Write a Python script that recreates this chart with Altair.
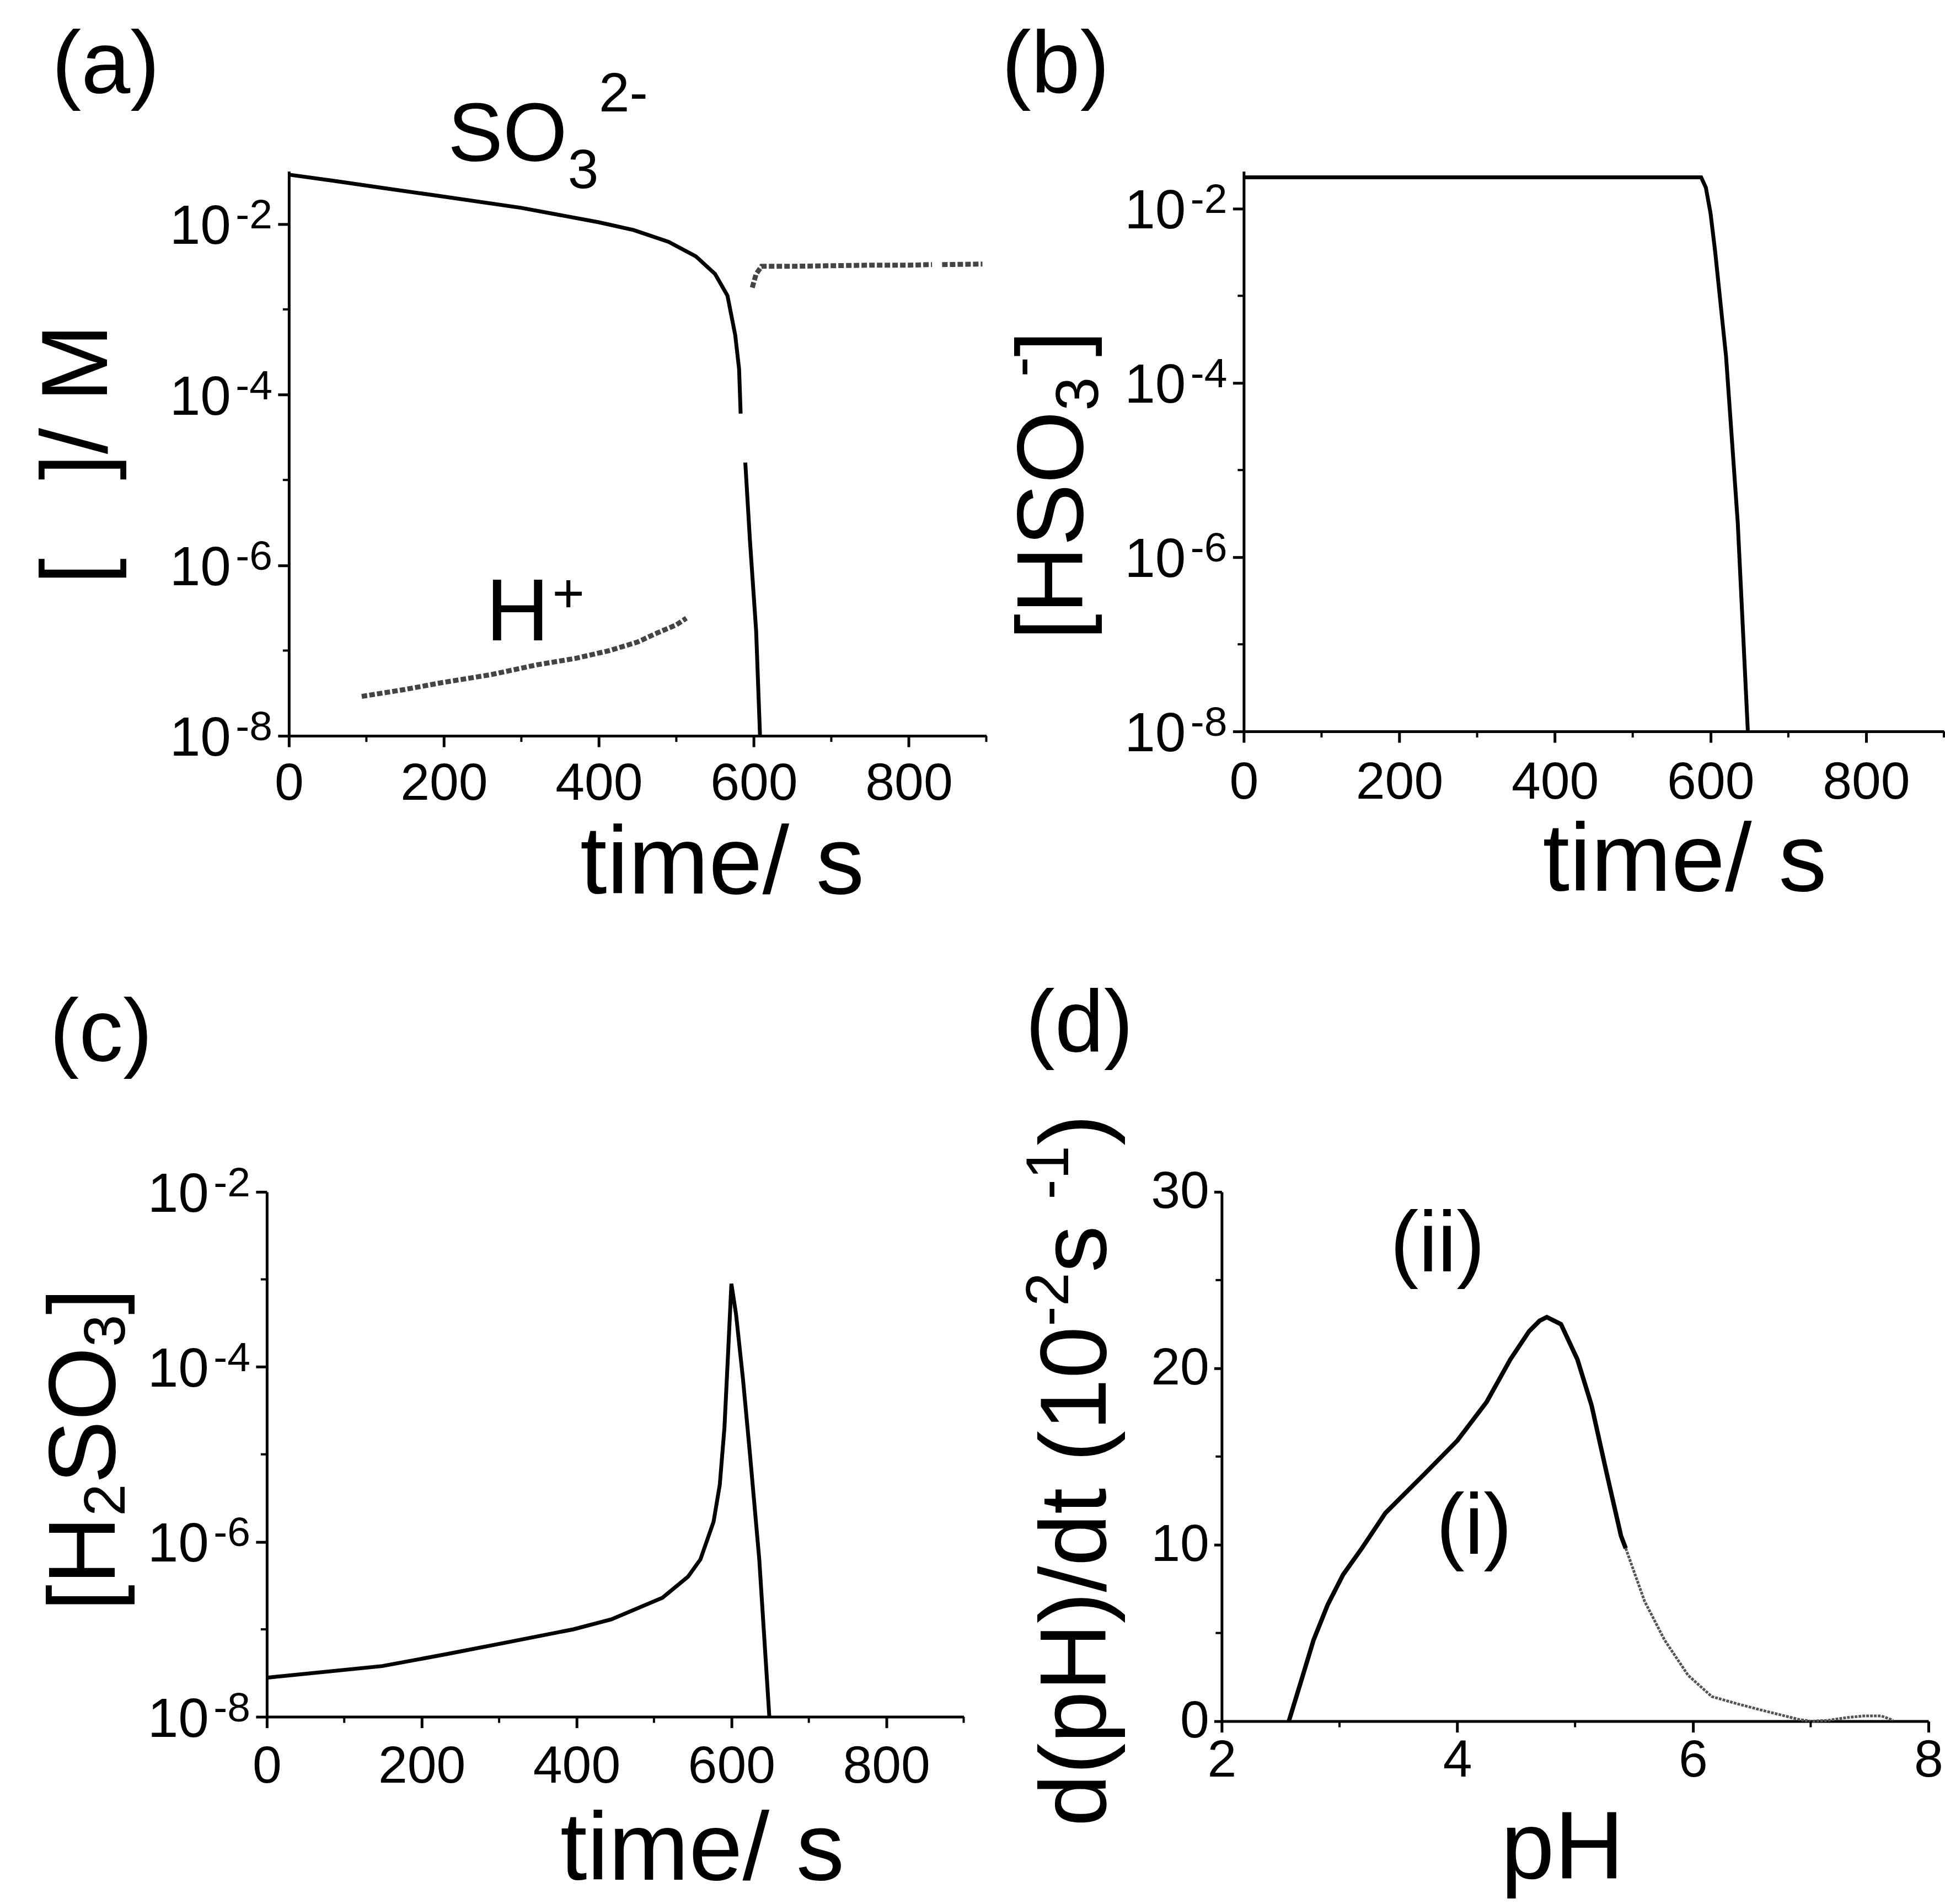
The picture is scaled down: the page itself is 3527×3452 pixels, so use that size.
import altair as alt
import pandas as pd

FONT = "Liberation Sans"

# ---------------- data ----------------
# (a) [SO3 2-] vs time, two visible segments
so3_seg1_t = [0, 60, 115, 200, 300, 400, 445, 490, 525, 550, 566, 576, 581, 583]
so3_seg1_c = [0.038, 0.032, 0.027, 0.021, 0.0155, 0.0105, 0.0085, 0.0062, 0.0042,
              0.0026, 0.00145, 0.0005, 0.0002, 0.00006]
so3_seg2_t = [589, 595, 603, 608]
so3_seg2_c = [1.6e-5, 1.95e-6, 1.7e-7, 1.0e-8]
# (a) [H+] vs time (hatched grey)
hp_seg1_t = [94, 150, 197, 260, 320, 370, 414, 450, 476, 500, 513]
hp_seg1_c = [2.9e-8, 3.5e-8, 4.2e-8, 5.2e-8, 6.8e-8, 8.1e-8, 1.0e-7, 1.26e-7,
             1.62e-7, 2.0e-7, 2.4e-7]
hp_seg2_t = [598, 603, 610, 650, 700, 750, 800, 830]
hp_seg2_c = [1.8e-3, 2.6e-3, 3.2e-3, 3.2e-3, 3.25e-3, 3.3e-3, 3.3e-3, 3.35e-3]
hp_seg3_t = [843, 895]
hp_seg3_c = [3.35e-3, 3.4e-3]
# (b) [HSO3-]
hso3_t = [0, 300, 588, 594, 600, 606, 620, 635, 648]
hso3_c = [0.0229, 0.0229, 0.0229, 0.0175, 0.0089, 0.0032, 2.0e-4, 2.5e-6, 1.0e-8]
# (c) [H2SO3]
h2so3_t = [0, 149, 232, 314, 396, 445, 511, 544, 560, 577, 585, 591, 596, 600,
           606, 615, 624, 636, 649]
h2so3_c = [2.8e-8, 3.8e-8, 5.2e-8, 7.2e-8, 1.0e-7, 1.3e-7, 2.3e-7, 4.0e-7, 6.3e-7,
           1.7e-6, 4.5e-6, 2.0e-5, 1.6e-4, 8.9e-4, 4.0e-4, 7.2e-5, 1.0e-5, 6.3e-7, 1.0e-8]
# (d) d(pH)/dt vs pH : black part (i) and grey tail
ph_i = [2.57, 2.68, 2.78, 2.90, 3.03, 3.19, 3.39, 3.72, 4.0, 4.25, 4.45, 4.61, 4.70,
        4.76, 4.88, 5.02, 5.14, 5.27, 5.39, 5.43]
rate_i = [0.0, 2.4, 4.6, 6.6, 8.3, 9.8, 11.8, 14.0, 15.9, 18.1, 20.5, 22.1, 22.7,
          22.9, 22.5, 20.5, 17.9, 14.0, 10.5, 9.8]
ph_ii = [5.43, 5.59, 5.76, 5.96, 6.16, 6.37, 6.57, 6.9, 7.0, 7.15, 7.3, 7.45, 7.6, 7.7]
rate_ii = [9.8, 6.8, 4.6, 2.6, 1.4, 1.0, 0.65, 0.1, 0.0, 0.05, 0.2, 0.3, 0.3, 0.05]

time_major = [0, 200, 400, 600, 800]
time_minor = [100, 300, 500, 700, 900]
log_major_exp = [-8, -6, -4, -2]
log_minor = [1e-7, 1e-5, 1e-3]

# ---------------- helpers ----------------
W_CHAR = {'[': .278, ']': .278, 'H': .722, 'S': .667, 'O': .778, '2': .556, '3': .556,
          '-': .333, 'd': .556, '(': .333, ')': .333, 'p': .556, '/': .278, 't': .278,
          ' ': .278, '\u00a0': .278, '1': .556, '0': .556, 's': .5}


def twidth(s, fs):
    return sum(W_CHAR.get(ch, 0.556) for ch in s) * fs


def ptext(text, x, y, size, angle=0, align="left", baseline="alphabetic"):
    return alt.Chart(pd.DataFrame({"k": [0]})).mark_text(
        text=text, fontSize=size, font=FONT, angle=angle, align=align,
        baseline=baseline, color="black"
    ).encode(x=alt.value(x), y=alt.value(y))


def rot_pieces(pieces, x0, y_start):
    out = []
    y = y_start
    for text, fs, dx in pieces:
        out.append(ptext(text, x0 + dx, y, fs, angle=270, align="left"))
        y -= twidth(text, fs)
    return out


def lin_axis(values, pad, tick=20):
    return alt.Axis(values=values, title=None, tickSize=tick, tickWidth=5,
                    domainWidth=5, labelFontSize=95, labelPadding=pad,
                    labelFlush=False, labelOverlap=False, labelFont=FONT,
                    domainColor="black", tickColor="black", labelColor="black")


def log_axis():
    return alt.Axis(values=[10.0 ** e for e in log_major_exp], labels=False,
                    title=None, tickSize=20, tickWidth=5, domainWidth=5,
                    domainColor="black", tickColor="black")


def log_labels(yscale, yaxis):
    df = pd.DataFrame({"v": [10.0 ** e for e in log_major_exp],
                       "base": ["10"] * len(log_major_exp),
                       "ex": [str(e) for e in log_major_exp]})
    base = alt.Chart(df).mark_text(fontSize=100, font=FONT, align="right",
                                   baseline="alphabetic", dy=36, color="black").encode(
        x=alt.value(-105), y=alt.Y("v:Q", scale=yscale, axis=yaxis), text="base:N")
    sup = alt.Chart(df).mark_text(fontSize=75, font=FONT, align="right",
                                  baseline="alphabetic", dy=8, color="black").encode(
        x=alt.value(-30), y=alt.Y("v:Q", scale=yscale, axis=yaxis), text="ex:N")
    return [base, sup]


def yminor(vals, yscale, yaxis, length=11):
    return alt.Chart(pd.DataFrame({"v": vals})).mark_rule(color="black", strokeWidth=4).encode(
        y=alt.Y("v:Q", scale=yscale, axis=yaxis), x=alt.value(0), x2=alt.value(-length))


def xminor(vals, xscale, xaxis, h, length=11):
    return alt.Chart(pd.DataFrame({"v": vals})).mark_rule(color="black", strokeWidth=4).encode(
        x=alt.X("v:Q", scale=xscale, axis=xaxis), y=alt.value(h), y2=alt.value(h + length))


def seg_df(parts):
    t, c, s = [], [], []
    for i, (tt, cc) in enumerate(parts):
        t += tt
        c += cc
        s += ["s%d" % i] * len(tt)
    return pd.DataFrame({"t": t, "c": c, "seg": s})


def annot(df, xscale, yscale, xaxis, yaxis):
    return alt.Chart(df).mark_text(font=FONT, align="left", baseline="alphabetic",
                                   color="black").encode(
        x=alt.X("t:Q", scale=xscale, axis=xaxis),
        y=alt.Y("c:Q", scale=yscale, axis=yaxis),
        text="s:N", size=alt.Size("fs:Q", scale=None, legend=None))


def spacer(w):
    return alt.Chart(pd.DataFrame({"v": [0]})).mark_point(opacity=0, size=0).encode(
        x=alt.X("v:Q", axis=None), y=alt.Y("v:Q", axis=None)).properties(width=w, height=1)


# ---------------- panel (a) ----------------
WA, HA = 1265, 1024
xA = alt.Scale(domain=[0, 900], nice=False, zero=False)
yA = alt.Scale(type="log", domain=[1e-8, 10 ** -1.38], nice=False)
axXA = lin_axis(time_major, 20)
axYA = log_axis()
so3 = alt.Chart(seg_df([(so3_seg1_t, so3_seg1_c), (so3_seg2_t, so3_seg2_c)])).mark_line(
    color="black", strokeWidth=7).encode(
    x=alt.X("t:Q", scale=xA, axis=axXA),
    y=alt.Y("c:Q", scale=yA, axis=axYA), detail="seg:N")
hplus = alt.Chart(seg_df([(hp_seg1_t, hp_seg1_c), (hp_seg2_t, hp_seg2_c),
                          (hp_seg3_t, hp_seg3_c)])).mark_line(
    color="#444444", strokeWidth=9, strokeDash=[10, 4]).encode(
    x=alt.X("t:Q", scale=xA, axis=axXA), y=alt.Y("c:Q", scale=yA, axis=axYA), detail="seg:N")
annA = annot(pd.DataFrame({
    "t": [205, 360, 400, 254, 340],
    "c": [10 ** -1.26, 10 ** -1.58, 10 ** -0.68, 10 ** -6.88, 10 ** -6.55],
    "s": ["SO", "3", "2-", "H", "+"],
    "fs": [150, 100, 100, 160, 100]}), xA, yA, axXA, axYA)
panelA = alt.layer(
    so3, hplus, yminor(log_minor, yA, axYA), xminor(time_minor, xA, axXA, HA), annA,
    *log_labels(yA, axYA),
    ptext("(a)", -430, -268, 160, baseline="top"),
    ptext("time/ s", 786, 1310, 175, align="center"),
    ptext("[\u00a0\u00a0\u00a0]/ M", -330, 513, 170, angle=270, align="center"),
).properties(width=WA, height=HA)

# ---------------- panel (b) ----------------
WB, HB = 1270, 1016
xB = alt.Scale(domain=[0, 900], nice=False, zero=False)
yB = alt.Scale(type="log", domain=[1e-8, 10 ** -1.57], nice=False)
axXB = lin_axis(time_major, 26)
axYB = log_axis()
hso3 = alt.Chart(pd.DataFrame({"t": hso3_t, "c": hso3_c})).mark_line(
    color="black", strokeWidth=7).encode(
    x=alt.X("t:Q", scale=xB, axis=axXB),
    y=alt.Y("c:Q", scale=yB, axis=axYB))
panelB = alt.layer(
    hso3, yminor(log_minor, yB, axYB), xminor(time_minor, xB, axXB, HB),
    *log_labels(yB, axYB),
    ptext("(b)", -439, -268, 160, baseline="top"),
    ptext("time/ s", 800, 1305, 175, align="center"),
    *rot_pieces([("[HSO", 170, 0), ("3", 110, 28), ("-", 110, -75), ("]", 170, 0)], -292, 850),
).properties(width=WB, height=HB)

# ---------------- panel (c) ----------------
WC, HC = 1264, 952
xC = alt.Scale(domain=[0, 900], nice=False, zero=False)
yC = alt.Scale(type="log", domain=[1e-8, 1e-2], nice=False)
axXC = lin_axis(time_major, 24)
axYC = log_axis()
h2so3 = alt.Chart(pd.DataFrame({"t": h2so3_t, "c": h2so3_c})).mark_line(
    color="black", strokeWidth=7).encode(
    x=alt.X("t:Q", scale=xC, axis=axXC),
    y=alt.Y("c:Q", scale=yC, axis=axYC))
panelC = alt.layer(
    h2so3, yminor(log_minor, yC, axYC), xminor(time_minor, xC, axXC, HC),
    *log_labels(yC, axYC),
    ptext("(c)", -394, -364, 160, baseline="top"),
    ptext("time/ s", 790, 1247, 175, align="center"),
    *rot_pieces([("[H", 172, 0), ("2", 105, 18), ("SO", 172, 0), ("3", 105, 18), ("]", 172, 0)],
                -276, 760),
).properties(width=WC, height=HC)

# ---------------- panel (d) ----------------
WD, HD = 1282, 960
xD = alt.Scale(domain=[2, 8], nice=False, zero=False)
yD = alt.Scale(domain=[0, 30], nice=False, zero=False)
axXD = lin_axis([2, 4, 6, 8], 5)
axYD = lin_axis([0, 10, 20, 30], 9, tick=14)
curve_i = alt.Chart(pd.DataFrame({"t": ph_i, "c": rate_i})).mark_line(
    color="black", strokeWidth=8).encode(
    x=alt.X("t:Q", scale=xD, axis=axXD), y=alt.Y("c:Q", scale=yD, axis=axYD))
curve_ii = alt.Chart(pd.DataFrame({"t": ph_ii, "c": rate_ii})).mark_line(
    color="#555555", strokeWidth=5, strokeDash=[5, 2]).encode(
    x=alt.X("t:Q", scale=xD, axis=axXD), y=alt.Y("c:Q", scale=yD, axis=axYD))
annD = annot(pd.DataFrame({"t": [3.43, 3.82], "c": [25.5, 9.5], "s": ["(ii)", "(i)"],
                           "fs": [155, 155]}), xD, yD, axXD, axYD)
panelD = alt.layer(
    curve_i, curve_ii, yminor([5, 15, 25], yD, axYD), xminor([3, 5, 7], xD, axXD, HD), annD,
    ptext("(d)", -356, -380, 160, baseline="top"),
    ptext("pH", 618, 1245, 175, align="center"),
    *rot_pieces([("d(pH)/dt (10", 170, 0), ("-2", 110, -68), ("\u00a0s", 170, 0),
                 ("-1", 110, -68), (")", 170, 0)], -210, 1151),
).properties(width=WD, height=HD)

row1 = alt.hconcat(spacer(57), panelA, panelB, spacing=467, bounds="flush")
row2 = alt.hconcat(spacer(16), panelC, panelD, spacing=468, bounds="flush")
chart = alt.vconcat(row1, row2, spacing=1851, bounds="flush").properties(
    padding={"left": 0, "top": 40, "right": 0, "bottom": 12},
    background="white",
).configure_view(stroke=None).configure_axis(
    grid=False, domainColor="black", tickColor="black", labelColor="black",
    labelFont=FONT, domainWidth=5, tickWidth=5)

chart.save("out.html", embed_options={"renderer": "svg", "actions": False})
